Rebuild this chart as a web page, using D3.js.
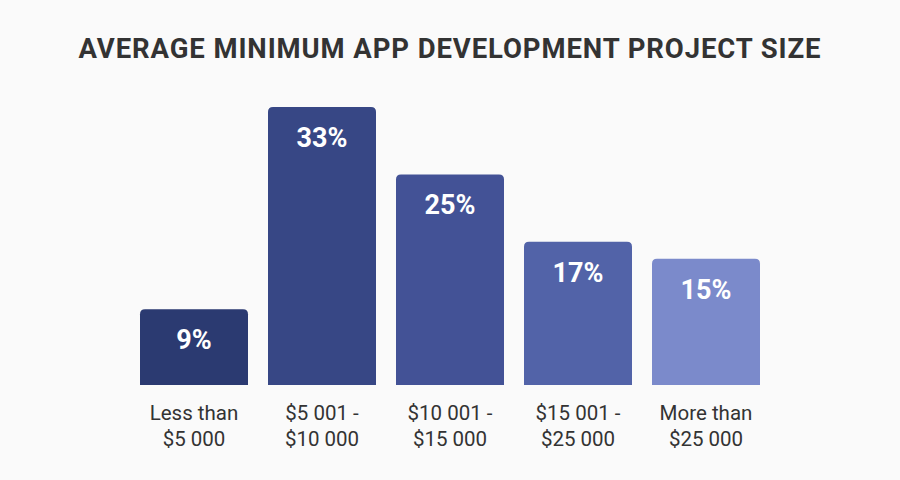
<!DOCTYPE html>
<html><head><meta charset="utf-8">
<script src="https://cdn.jsdelivr.net/npm/d3@7"></script>
<style>html,body{margin:0;padding:0;background:#fafafa;}svg{display:block;}</style>
</head><body>
<svg id="chart" width="900" height="480"></svg>
<script>
const title = "AVERAGE MINIMUM APP DEVELOPMENT PROJECT SIZE";
const categories = [["Less than","$5 000"],["$5 001 -","$10 000"],["$10 001 -","$15 000"],["$15 001 -","$25 000"],["More than","$25 000"]];
const values = [9, 33, 25, 17, 15];
const colors = ["#2b3a71","#374785","#435296","#5263a8","#7b8acb"];

const svg = d3.select("#chart");
svg.append("rect").attr("width",900).attr("height",480).attr("fill","#fafafa");
svg.append("text").attr("x",450).attr("y",58).attr("text-anchor","middle")
  .attr("font-family","Roboto, 'Open Sans', sans-serif").attr("font-weight",700)
  .attr("font-size",27.5).attr("letter-spacing",0.9).attr("fill","#333333").text(title);

const x = d3.scaleBand().domain(d3.range(values.length)).range([140-10,760+10]).paddingInner(20/128).paddingOuter(10/128);
const base = 385;
const y = d3.scaleLinear().domain([0,33]).range([base, base-278]);
const r = 5;
function barPath(x0,w,top,bot){
  return `M${x0},${bot}V${top+r}Q${x0},${top} ${x0+r},${top}H${x0+w-r}Q${x0+w},${top} ${x0+w},${top+r}V${bot}Z`;
}
const g = svg.append("g");
values.forEach((v,i)=>{
  const x0 = x(i), w = x.bandwidth(), top = y(v);
  g.append("path").attr("d",barPath(x0,w,top,base)).attr("fill",colors[i]);
  g.append("text").attr("x",x0+w/2).attr("y",top+40).attr("text-anchor","middle")
   .attr("font-family","Roboto, sans-serif").attr("font-weight",700).attr("font-size",27)
   .attr("fill","#ffffff").text(v+"%");
  const t = g.append("text").attr("text-anchor","middle")
   .attr("font-family","Roboto, sans-serif").attr("font-size",20.5).attr("fill","#333333");
  categories[i].forEach((line,j)=>{
    t.append("tspan").attr("x",x0+w/2).attr("y",420+j*26).text(line);
  });
});
</script>
</body></html>
